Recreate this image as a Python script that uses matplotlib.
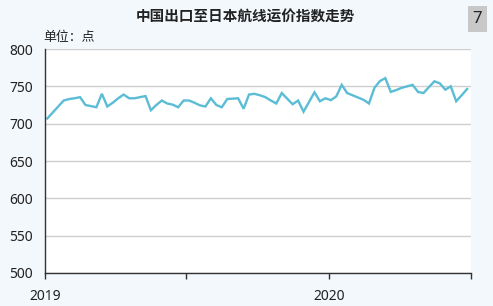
import datetime as dt

import matplotlib
matplotlib.use("Agg")
import matplotlib.pyplot as plt

plt.rcParams["font.family"] = ["Noto Sans", "Noto Sans CJK SC", "DejaVu Sans"]
CJK = ["Noto Sans CJK SC", "DejaVu Sans"]

TITLE = "中国出口至日本航线运价指数走势"
UNIT = "单位：点"
START = dt.date(2019, 1, 4)   # weekly Friday readings
VALUES = [
    707, 715, 723, 731, 733, 734, 735.5, 725, 723.5, 722,
    740, 723, 728, 734, 739, 734, 734, 735.5, 737, 718,
    725, 731, 727, 725.5, 722, 731, 731, 728, 724.5, 723,
    734, 725, 722, 733, 733.5, 734, 720, 739, 740, 738,
    735.5, 731, 727, 741, 733.5, 726, 731, 716, 729, 742,
    730, 734, 731.5, 736.5, 752, 741, 738, 735, 732, 727,
    748, 757, 761, 742.5, 745, 748, 750, 752, 742.5, 741,
    749, 756.7, 754, 745.5, 750, 730, 738, 746.4,
]
DATES = [START + dt.timedelta(weeks=i) for i in range(len(VALUES))]
Y_TICKS = [500, 550, 600, 650, 700, 750, 800]
X_TICKS = [dt.date(2019, 1, 1), dt.date(2019, 7, 1), dt.date(2020, 1, 1), dt.date(2020, 7, 1)]
X_LABELS = ["2019", "", "2020", ""]

BG = "#f3f8fd"
LINE = "#5bbdd5"

fig = plt.figure(figsize=(4.93, 3.06), dpi=100, facecolor=BG)
ax = fig.add_axes([45 / 493, 33 / 306, 426 / 493, 224 / 306])
ax.set_facecolor("white")
ax.plot(DATES, VALUES, color=LINE, lw=1.7, solid_joinstyle="miter")

ax.set_ylim(500, 800)
ax.set_yticks(Y_TICKS)
ax.set_xlim(X_TICKS[0], X_TICKS[-1])
ax.set_xticks(X_TICKS)
ax.set_xticklabels(X_LABELS)
ax.grid(axis="y", color="#cfcfcf", lw=1)
ax.set_axisbelow(True)
for s in ("top", "right"):
    ax.spines[s].set_visible(False)
for s in ("left", "bottom"):
    ax.spines[s].set_color("#333333")
    ax.spines[s].set_linewidth(1)
ax.tick_params(axis="y", length=0, pad=8.5, labelsize=10, colors="#222222")
ax.tick_params(axis="x", length=4, width=1, color="#333333", pad=7.5,
               labelsize=10, labelcolor="#222222")

fig.text(245 / 493, 1 - 17 / 306, TITLE, ha="center", va="center",
         fontsize=10.5, fontweight="bold", color="#222222", family=CJK)
fig.text(43 / 493, 1 - 37 / 306, UNIT, ha="left", va="center",
         fontsize=9.3, color="#222222", family=CJK)
fig.text(477.5 / 493, 1 - 19 / 306, "7", ha="center", va="center", fontsize=12,
         color="#222222",
         bbox=dict(boxstyle="square,pad=0.3", fc="#c8c8c8", ec="none"))

fig.savefig("out.png", dpi=100, facecolor=BG)
